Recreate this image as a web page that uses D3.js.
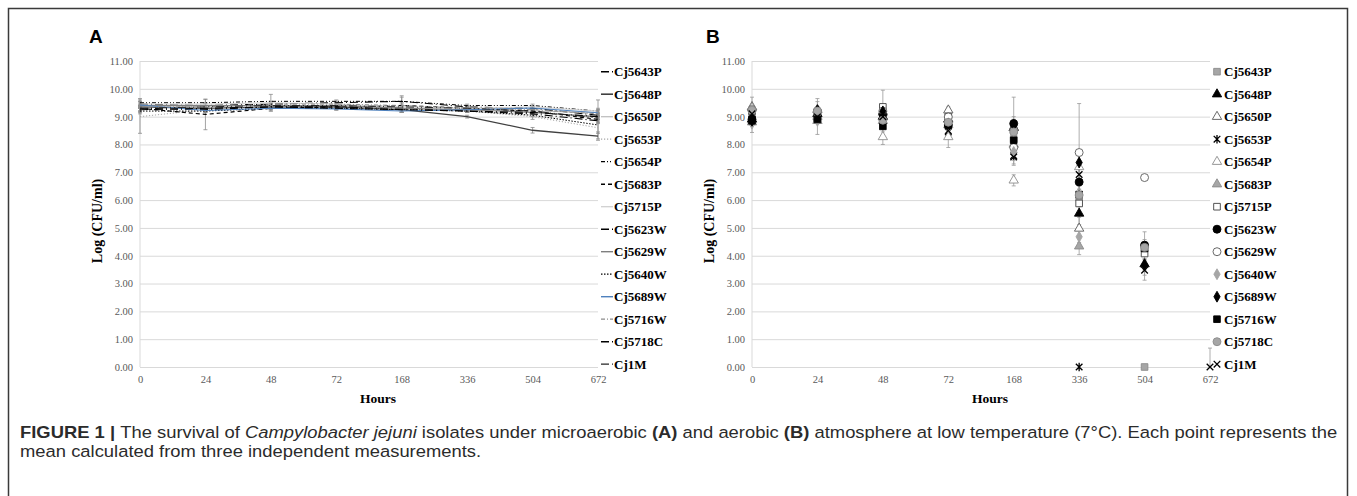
<!DOCTYPE html>
<html>
<head>
<meta charset="utf-8">
<script src="https://cdn.jsdelivr.net/npm/d3@7"></script>
<style>
  body { margin: 0; background: #fff; }
  .tick text { fill: #595959; }
</style>
</head>
<body>
<div id="chart"></div>
<script>
// categories (Excel category axis, equal spacing)
var hours = ["0", "24", "48", "72", "168", "336", "504", "672"];
var isolates = ["Cj5643P", "Cj5648P", "Cj5650P", "Cj5653P", "Cj5654P", "Cj5683P", "Cj5715P",
  "Cj5623W", "Cj5629W", "Cj5640W", "Cj5689W", "Cj5716W", "Cj5718C", "Cj1M"];
var yTicks = [0, 1, 2, 3, 4, 5, 6, 7, 8, 9, 10, 11];

// A: microaerobic, mean log CFU/ml, one row per isolate
var microMeans = [
  [9.45, 9.40, 9.45, 9.50, 9.55, 9.35, 9.30, 9.05],
  [9.35, 9.30, 9.35, 9.35, 9.25, 9.00, 8.51, 8.30],
  [9.40, 9.35, 9.40, 9.40, 9.30, 9.25, 9.20, 9.15],
  [9.00, 9.25, 9.35, 9.30, 9.30, 9.20, 9.00, 8.60],
  [9.50, 9.50, 9.55, 9.55, 9.55, 9.40, 9.40, 9.20],
  [9.30, 9.08, 9.30, 9.35, 9.40, 9.30, 9.20, 8.90],
  [9.45, 9.45, 9.50, 9.45, 9.35, 9.30, 9.35, 9.20],
  [9.30, 9.25, 9.35, 9.35, 9.30, 9.20, 9.10, 8.85],
  [9.40, 9.40, 9.40, 9.40, 9.30, 9.25, 9.15, 9.00],
  [9.20, 9.20, 9.30, 9.30, 9.25, 9.20, 9.05, 8.70],
  [9.42, 9.22, 9.30, 9.28, 9.20, 9.25, 9.31, 9.14],
  [9.35, 9.35, 9.45, 9.45, 9.40, 9.30, 9.25, 9.10],
  [9.25, 9.30, 9.35, 9.30, 9.25, 9.20, 9.15, 9.00],
  [9.30, 9.35, 9.40, 9.40, 9.35, 9.30, 9.20, 8.95]
];
var microErr = [
  [0.10, 0.08, 0.10, 0.05, 0.15, 0.05, 0.05, 0.10],
  [0.05, 0.10, 0.05, 0.05, 0.10, 0.05, 0.10, 0.15],
  [0.05, 0.05, 0.08, 0.05, 0.05, 0.05, 0.05, 0.10],
  [0.60, 0.10, 0.05, 0.05, 0.10, 0.05, 0.10, 0.40],
  [0.15, 0.12, 0.25, 0.05, 0.20, 0.05, 0.05, 0.40],
  [0.10, 0.55, 0.10, 0.05, 0.10, 0.10, 0.05, 0.10],
  [0.10, 0.05, 0.05, 0.05, 0.05, 0.05, 0.05, 0.10],
  [0.10, 0.05, 0.10, 0.05, 0.10, 0.05, 0.10, 0.10],
  [0.05, 0.05, 0.10, 0.05, 0.05, 0.10, 0.05, 0.10],
  [0.10, 0.05, 0.05, 0.05, 0.10, 0.05, 0.05, 0.30],
  [0.10, 0.05, 0.10, 0.05, 0.05, 0.05, 0.05, 0.10],
  [0.05, 0.05, 0.05, 0.05, 0.05, 0.05, 0.05, 0.10],
  [0.10, 0.10, 0.05, 0.05, 0.10, 0.05, 0.05, 0.10],
  [0.10, 0.05, 0.10, 0.05, 0.05, 0.05, 0.05, 0.10]
];

// B: aerobic, null = no count
var aeroMeans = [
  [9.00, 8.90, 8.90, 8.80, 8.20, 6.10, 0.00, null],
  [8.90, 9.10, 9.00, 8.90, 8.60, 5.52, 3.70, null],
  [9.35, 9.25, 9.15, 9.23, 8.60, 4.98, null, null],
  [8.90, 8.95, 9.05, 8.45, 7.60, 0.00, null, null],
  [9.30, 9.00, 8.27, 8.27, 6.71, 7.19, null, null],
  [8.80, 8.85, 8.85, 8.70, 8.00, 4.34, null, null],
  [9.20, 8.95, 9.35, 9.00, 8.50, 5.88, 4.08, null],
  [8.90, 9.20, 9.10, 8.70, 8.75, 6.65, 4.38, null],
  [9.25, 9.15, 9.20, 8.99, 7.89, 7.71, 6.81, null],
  [8.75, 8.85, 8.90, 8.60, 7.73, 4.68, null, null],
  [8.85, 9.23, 9.19, 8.75, 8.70, 7.35, 3.66, null],
  [8.85, 8.90, 8.65, 8.69, 8.15, 6.20, 4.26, null],
  [9.23, 9.20, 8.87, 8.80, 8.45, 6.18, 4.30, null],
  [9.10, 8.99, 9.00, 8.50, 7.55, 6.92, 3.48, 0.00]
];
var aeroErr = [
  [0.10, 0.10, 0.15, 0.10, 0.20, 0.30, 0.00, null],
  [0.10, 0.15, 0.20, 0.10, 0.20, 0.40, 0.20, null],
  [0.35, 0.10, 0.15, 0.12, 0.30, 0.50, null, null],
  [0.10, 0.10, 0.20, 0.15, 0.30, 0.00, null, null],
  [0.10, 0.15, 0.27, 0.38, 0.20, 0.40, null, null],
  [0.10, 0.10, 0.15, 0.10, 0.20, 0.30, null, null],
  [0.10, 0.59, 0.60, 0.20, 0.40, 0.50, 0.78, null],
  [0.10, 0.15, 0.20, 0.20, 0.95, 0.50, 0.20, null],
  [0.10, 0.20, 0.20, 0.15, 0.40, 1.76, 0.00, null],
  [0.32, 0.10, 0.15, 0.15, 0.30, 0.30, null, null],
  [0.10, 0.42, 0.20, 0.15, 0.30, 0.40, 0.20, null],
  [0.10, 0.10, 0.20, 0.15, 0.30, 0.30, 0.20, null],
  [0.10, 0.10, 0.15, 0.15, 0.30, 0.40, 0.20, null],
  [0.10, 0.15, 0.20, 0.20, 0.30, 0.40, 0.36, 0.68]
];

// line styles for A
var lineColors = ["#000", "#404040", "#bfbfbf", "#a6a6a6", "#000", "#000", "#d0d0d0",
  "#000", "#7f7f7f", "#000", "#4f81bd", "#8c8c8c", "#000", "#262626"];
var lineDash = ["8,3,1,3", null, null, "1.2,1.8", "4,2,1,2,1,2", "4,3", null,
  "8,3,1,3", null, "1.5,1.5", null, "4,2,1,2", "8,3,1,3", "8,3,1,3,1,3"];
var lineWidth = [1.1, 1.3, 1, 1, 1, 1.2, 1, 1.1, 1.1, 1, 1.1, 1, 1.1, 1];

// marker styles for B
var shapes = ["square", "triangle", "triangle", "star", "triangle", "triangle", "square",
  "circle", "circle", "diamond", "diamond", "square", "circle", "cross"];
var fills = ["#a6a6a6", "#000", "#fff", "none", "#fff", "#a6a6a6", "#fff",
  "#000", "#fff", "#a6a6a6", "#000", "#000", "#a6a6a6", "none"];
var strokes = ["#8c8c8c", "#000", "#595959", "#000", "#8c8c8c", "#8c8c8c", "#404040",
  "#000", "#595959", "#a6a6a6", "#000", "#000", "#8c8c8c", "#000"];

var svgWidth = 1357;
var svgHeight = 496;
var plotTop = 61, plotBottom = 367, plotWidth = 458;
var serif = "'Liberation Serif', 'Times New Roman', serif";

var svg = d3.select("#chart")
  .append("svg")
  .attr("width", svgWidth)
  .attr("height", svgHeight);

svg.append("rect").attr("width", svgWidth).attr("height", svgHeight).attr("fill", "#fff");

// page frame
svg.append("path")
  .attr("d", "M8.5,496V8.5H1347.5V496")
  .attr("fill", "none")
  .attr("stroke", "#3a3a3a")
  .attr("stroke-width", 1.5);

var yScale = d3.scaleLinear().domain([0, 11]).range([plotBottom, plotTop]);

function markerPath(shape) {
  if (shape === "star") return "M-3.3,-3.3L3.3,3.3M-3.3,3.3L3.3,-3.3M0,-4.2L0,4.2";
  if (shape === "cross") return "M-3.3,-3.3L3.3,3.3M-3.3,3.3L3.3,-3.3";
  var types = { square: [d3.symbolSquare, 44], triangle: [d3.symbolTriangle, 38],
    circle: [d3.symbolCircle, 50], diamond: [d3.symbolDiamond, 34] };
  return d3.symbol().type(types[shape][0]).size(types[shape][1])();
}

// shared frame for both panels: grid, axes, titles
function drawPanel(left, letter, letterX) {
  var g = svg.append("g").attr("transform", `translate(${left},0)`);
  var xScale = d3.scalePoint().domain(hours).range([0, plotWidth]);

  g.append("g")
    .call(d3.axisLeft(yScale).tickValues(yTicks).tickSize(-plotWidth).tickFormat(""))
    .call(a => a.select(".domain").remove())
    .call(a => a.selectAll("line").attr("stroke", "#d9d9d9"));

  g.append("line")
    .attr("x1", 0).attr("x2", 0).attr("y1", plotTop).attr("y2", plotBottom)
    .attr("stroke", "#d9d9d9");

  g.append("g")
    .call(d3.axisLeft(yScale).tickValues(yTicks).tickSize(0).tickPadding(7).tickFormat(d3.format(".2f")))
    .call(a => a.select(".domain").remove())
    .selectAll("text").attr("font-family", serif).attr("font-size", "10.5px");

  g.append("g")
    .attr("transform", `translate(0,${plotBottom})`)
    .call(d3.axisBottom(xScale).tickSize(0).tickPadding(9))
    .call(a => a.select(".domain").remove())
    .selectAll("text").attr("font-family", serif).attr("font-size", "10.5px");

  g.append("text")
    .attr("transform", `translate(-38,221) rotate(-90)`)
    .attr("text-anchor", "middle")
    .attr("font-family", serif).attr("font-weight", "bold").attr("font-size", "14px")
    .text("Log (CFU/ml)");

  g.append("text")
    .attr("x", plotWidth / 2 + 9).attr("y", 403)
    .attr("text-anchor", "middle")
    .attr("font-family", serif).attr("font-weight", "bold").attr("font-size", "13.5px")
    .text("Hours");

  svg.append("text")
    .attr("x", letterX).attr("y", 43)
    .attr("font-family", "'Liberation Sans', Arial, sans-serif")
    .attr("font-weight", "bold").attr("font-size", "19px")
    .text(letter);

  return { g: g, x: xScale };
}

function legendY(i) { return 71.7 + i * 22.5; }

// Panel A
var pa = drawPanel(140, "A", 89);

var line = d3.line()
  .defined(d => d != null)
  .x((d, i) => pa.x(hours[i]))
  .y(d => yScale(d));

microMeans.forEach(function(row, s) {
  row.forEach(function(v, i) {
    var e = microErr[s][i];
    var cx = pa.x(hours[i]);
    pa.g.append("path")
      .attr("d", `M${cx},${yScale(v - e)}V${yScale(v + e)}M${cx - 2},${yScale(v - e)}h4M${cx - 2},${yScale(v + e)}h4`)
      .attr("stroke", "#8c8c8c").attr("stroke-width", 0.8).attr("fill", "none");
  });
});

microMeans.forEach(function(row, s) {
  pa.g.append("path")
    .datum(row)
    .attr("d", line)
    .attr("fill", "none")
    .attr("stroke", lineColors[s])
    .attr("stroke-width", lineWidth[s])
    .attr("stroke-dasharray", lineDash[s]);
});

var legA = svg.append("g");
isolates.forEach(function(name, s) {
  var y = legendY(s);
  legA.append("line")
    .attr("x1", 601).attr("x2", 613).attr("y1", y).attr("y2", y)
    .attr("stroke", lineColors[s]).attr("stroke-width", lineWidth[s] + 0.3)
    .attr("stroke-dasharray", lineDash[s]);
  legA.append("text")
    .attr("x", 614).attr("y", y + 4.5)
    .attr("font-family", serif).attr("font-weight", "bold").attr("font-size", "13px")
    .text(name);
});

// Panel B
var pb = drawPanel(752, "B", 706);

aeroMeans.forEach(function(row, s) {
  row.forEach(function(v, i) {
    var e = aeroErr[s][i];
    if (v == null || !e) return;
    var cx = pb.x(hours[i]);
    var lo = Math.max(0, v - e), hi = v + e;
    pb.g.append("path")
      .attr("d", `M${cx},${yScale(lo)}V${yScale(hi)}M${cx - 2},${yScale(hi)}h4` + (v - e >= 0 ? `M${cx - 2},${yScale(lo)}h4` : ""))
      .attr("stroke", "#999").attr("stroke-width", 0.8).attr("fill", "none");
  });
});

aeroMeans.forEach(function(row, s) {
  row.forEach(function(v, i) {
    if (v == null) return;
    pb.g.append("path")
      .attr("transform", `translate(${pb.x(hours[i])},${yScale(v)})`)
      .attr("d", markerPath(shapes[s]))
      .attr("fill", fills[s])
      .attr("stroke", strokes[s])
      .attr("stroke-width", shapes[s] === "star" || shapes[s] === "cross" ? 1.3 : 0.9);
  });
});

var legB = svg.append("g");
isolates.forEach(function(name, s) {
  var y = legendY(s);
  legB.append("path")
    .attr("transform", `translate(1217,${y})`)
    .attr("d", markerPath(shapes[s]))
    .attr("fill", fills[s])
    .attr("stroke", strokes[s])
    .attr("stroke-width", shapes[s] === "star" || shapes[s] === "cross" ? 1.3 : 0.9);
  legB.append("text")
    .attr("x", 1224).attr("y", y + 4.5)
    .attr("font-family", serif).attr("font-weight", "bold").attr("font-size", "13px")
    .text(name);
});

// caption, squeezed horizontally like a narrow sans face
var caption = svg.append("g")
  .attr("font-family", "'Liberation Sans', Arial, sans-serif")
  .attr("font-size", "16.5px")
  .attr("fill", "#2b2b2b");

var line1 = caption.append("text").attr("x", 0).attr("y", 0);
line1.append("tspan").attr("font-weight", "bold").text("FIGURE 1 | ");
line1.append("tspan").text("The survival of ");
line1.append("tspan").attr("font-style", "italic").text("Campylobacter jejuni");
line1.append("tspan").text(" isolates under microaerobic ");
line1.append("tspan").attr("font-weight", "bold").text("(A)");
line1.append("tspan").text(" and aerobic ");
line1.append("tspan").attr("font-weight", "bold").text("(B)");
line1.append("tspan").text(" atmosphere at low temperature (7°C). Each point represents the");

caption.append("text").attr("x", 0).attr("y", 19.5)
  .text("mean calculated from three independent measurements.");

var w1 = line1.node().getComputedTextLength();
caption.attr("transform", `translate(20,438) scale(${1318 / w1},1)`);
</script>
</body>
</html>
